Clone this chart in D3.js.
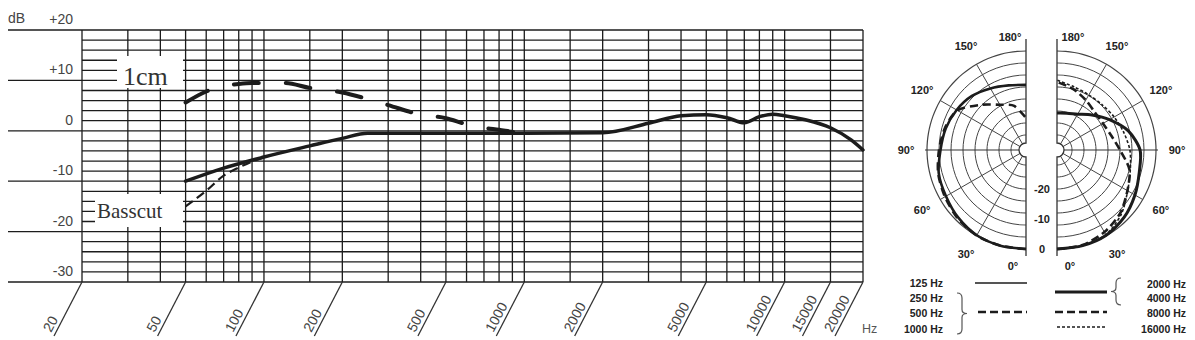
<!DOCTYPE html>
<html><head><meta charset="utf-8">
<script src="https://cdn.jsdelivr.net/npm/d3@7"></script>
<style>body{margin:0;background:#fff;} svg{display:block;}</style>
</head><body>
<svg id="chart" width="1195" height="340"></svg>
<script>
// ---------------- data ----------------
const gridFreqs = [20,30,40,50,60,70,80,90,100,150,200,300,400,500,600,700,800,900,1000,1500,2000,3000,4000,5000,6000,7000,8000,9000,10000,15000,20000];
const xTickFreqs = [20,50,100,200,500,1000,2000,5000,10000,15000,20000];
const xTickLabels = ["20","50","100","200","500","1000","2000","5000","10000","15000","20000"];
const yTickValues = [20,10,0,-10,-20,-30];
const yTickLabels = ["+20","+10","0","-10","-20","-30"];

// frequency response (far field, solid)
const mainFreq = [50,70,100,150,200,250,500,1000,2000,3000,4000,5000,6000,7000,8000,9000,10000,12000,15000,18000,20000];
const mainDb   = [-10,-7.4,-5.2,-3.0,-1.5,-0.5,-0.5,-0.5,-0.4,1.5,3.0,3.2,2.6,1.6,2.8,3.3,3.0,2.2,0.6,-1.8,-3.8];
// 1cm proximity (dashed)
const nearFreq = [50,60,70,80,90,100,120,150,200,250,300,400,500,600,700,800,900,1000];
const nearDb   = [5.6,7.8,8.8,9.3,9.5,9.5,9.5,8.5,7.6,6.3,5.1,3.2,2.5,1.3,0.6,0.2,-0.2,-0.5];
// Basscut (short dashes)
const cutFreq = [50,60,70,80,90,100];
const cutDb   = [-15,-11.9,-8.9,-7.3,-6.1,-5.3];

// polar patterns (dB at angle)
const polarAngles = [0,15,30,45,60,75,90,105,120,135,150,165,180];
const polar125  = [0,0,-0.2,-1.1,-2.2,-2.9,-4.5,-5.3,-6.3,-7.5,-9.3,-10.7,-11.3];
const polarMid  = [0,0,-0.1,-0.8,-1.8,-2.7,-4.0,-5.0,-6.6,-11.7,-15.6,-17.8,-22.3];
const polar2k4k = [0,0,-0.2,-1.3,-3.0,-4.6,-5.3,-8.4,-12.8,-16.5,-19.2,-20.3,-20.7];
const polar8k   = [0,-0.2,-1.4,-3.2,-5.9,-8.0,-12.0,-14.3,-15.3,-15.2,-13.8,-12.0,-10.3];
const polar16k  = [0,0,-0.4,-2.7,-5.8,-7.7,-8.7,-10.0,-11.0,-11.7,-11.8,-11.2,-9.7];
const polarRings = [0,-4,-8,-12,-16,-20,-24,-28];
const polarSpokes = [30,60,120,150];
const polarAngleLabels = [0,30,60,90,120,150,180];
const polarDbLabels = [0,-10,-20];
const legendLeft  = ["125 Hz","250 Hz","500 Hz","1000 Hz"];
const legendRight = ["2000 Hz","4000 Hz","8000 Hz","16000 Hz"];

// ---------------- drawing ----------------
const svg = d3.select("#chart");
const ink = "#1c1c1c", grey = "#444";
const font = "'Liberation Sans', Arial, sans-serif";

const x = d3.scaleLog().domain([20,20000]).range([82,863]);
const y = d3.scaleLinear().domain([-30,20]).range([282,30]);

const grid = svg.append("g").attr("stroke", ink).attr("stroke-width", 1.3);
// horizontal lines every 2 dB
grid.selectAll("line.h").data(d3.range(-30, 21, 2)).join("line")
  .attr("x1", d => d % 10 === 0 ? 8 : x(20)).attr("x2", x(20000))
  .attr("y1", d => y(d)).attr("y2", d => y(d));
// vertical lines
grid.selectAll("line.v").data(gridFreqs).join("line")
  .attr("x1", d => x(d)).attr("x2", d => x(d))
  .attr("y1", y(20)).attr("y2", y(-30));

// y labels
svg.append("g").selectAll("text").data(yTickValues).join("text")
  .attr("x", 73).attr("y", d => y(d) - 6).attr("text-anchor", "end")
  .attr("font-family", font).attr("font-size", 14).attr("fill", grey)
  .text((d,i) => yTickLabels[i]);
svg.append("text").attr("x", 8).attr("y", y(20) - 7)
  .attr("font-family", font).attr("font-size", 14).attr("fill", grey).text("dB");

// x tick slashes and rotated labels
const xt = svg.append("g");
xt.selectAll("line").data(xTickFreqs).join("line")
  .attr("x1", d => x(d)).attr("y1", y(-30))
  .attr("x2", d => x(d) - 28).attr("y2", 336)
  .attr("stroke", "#333").attr("stroke-width", 1.3);
xt.selectAll("text").data(xTickFreqs).join("text")
  .attr("transform", d => `translate(${x(d) - 31},333) rotate(-62)`)
  .attr("font-family", font).attr("font-size", 14).attr("fill", grey)
  .text((d,i) => xTickLabels[i]);

// white label boxes
svg.append("rect").attr("x", 117).attr("y", 56).attr("width", 66).attr("height", 32).attr("fill", "#fff");
svg.append("text").attr("x", 123).attr("y", 85)
  .attr("font-family", "'Liberation Serif', 'Times New Roman', serif").attr("font-size", 26).attr("fill", "#333").text("1cm");
svg.append("rect").attr("x", 95).attr("y", 194).attr("width", 88).attr("height", 33).attr("fill", "#fff");
svg.append("text").attr("x", 97).attr("y", 218)
  .attr("font-family", "'Liberation Serif', 'Times New Roman', serif").attr("font-size", 21).attr("fill", "#333").text("Basscut");

// response curves
const line = d3.line().x(d => x(d[0])).y(d => y(d[1])).curve(d3.curveMonotoneX);
svg.append("path").datum(d3.zip(cutFreq, cutDb)).attr("d", line)
  .attr("fill", "none").attr("stroke", ink).attr("stroke-width", 2.2).attr("stroke-dasharray", "9,5");
svg.append("path").datum(d3.zip(nearFreq, nearDb)).attr("d", line)
  .attr("fill", "none").attr("stroke", ink).attr("stroke-width", 4).attr("stroke-linecap", "round").attr("stroke-dasharray", "25,27");
svg.append("path").datum(d3.zip(mainFreq, mainDb)).attr("d", line)
  .attr("fill", "none").attr("stroke", ink).attr("stroke-width", 3.5).attr("stroke-linecap", "round");

// Hz label
svg.append("text").attr("x", 862).attr("y", 333)
  .attr("font-family", font).attr("font-size", 12.5).attr("fill", "#555").text("Hz");

// ---------------- polar ----------------
const cy = 150, cxL = 1026, cxR = 1057;
const r = d3.scaleLinear().domain([-30, 0]).range([9, 99]);
const angL = d3.scaleLinear().domain([0, 180]).range([Math.PI, 2 * Math.PI]);
const angR = d3.scaleLinear().domain([0, 180]).range([Math.PI, 0]);
const holeR = 7;

function drawHalf(cx, ang, side) {
  const g = svg.append("g").attr("transform", `translate(${cx},${cy})`);
  // rings
  g.selectAll("path.ring").data(polarRings).join("path")
    .attr("d", d => d3.lineRadial().angle(a => ang(a)).radius(r(d)).curve(d3.curveCardinal)(d3.range(0, 181, 5)))
    .attr("fill", "none").attr("stroke", "#444").attr("stroke-width", d => d === 0 ? 1.2 : 1);
  // spokes
  g.selectAll("line.sp").data(polarSpokes).join("line")
    .attr("x1", d => holeR * Math.sin(ang(d))).attr("y1", d => -holeR * Math.cos(ang(d)))
    .attr("x2", d => r(0) * Math.sin(ang(d))).attr("y2", d => -r(0) * Math.cos(ang(d)))
    .attr("stroke", "#444").attr("stroke-width", 1);
  // 90 degree line
  g.append("line").attr("x1", side * holeR).attr("x2", side * (r(0) + 2)).attr("y1", 0).attr("y2", 0)
    .attr("stroke", "#333").attr("stroke-width", 1.2);
  // axis with hole
  const p = d3.path();
  p.moveTo(0, -111); p.lineTo(0, -holeR);
  if (side < 0) p.arc(0, 0, holeR, -Math.PI / 2, Math.PI / 2, true);
  else p.arc(0, 0, holeR, -Math.PI / 2, Math.PI / 2, false);
  p.lineTo(0, 106);
  g.append("path").attr("d", p.toString()).attr("fill", "none").attr("stroke", "#333").attr("stroke-width", 1.3);
  // angle labels
  g.selectAll("text.al").data(polarAngleLabels).join("text")
    .attr("x", d => d === 0 ? side * 13 : d === 180 ? side * 16 : 120 * Math.sin(ang(d)))
    .attr("y", d => d === 0 ? 116 : d === 180 ? -113 : -120 * Math.cos(ang(d)))
    .attr("dy", "0.35em").attr("text-anchor", "middle")
    .attr("font-family", font).attr("font-size", 11).attr("font-weight", "bold").attr("fill", "#222")
    .text(d => d + "°");
  return g;
}
const gL = drawHalf(cxL, angL, -1);
const gR = drawHalf(cxR, angR, 1);

function polarCurve(g, ang, vals, width, dash) {
  const lr = d3.lineRadial().angle(d => ang(d[0])).radius(d => r(d[1])).curve(d3.curveCardinal.tension(0.2));
  const pth = g.append("path").datum(d3.zip(polarAngles, vals)).attr("d", lr)
    .attr("fill", "none").attr("stroke", ink).attr("stroke-width", width);
  if (dash) pth.attr("stroke-dasharray", dash);
}
polarCurve(gL, angL, polarMid, 2.6, "8,5");
polarCurve(gL, angL, polar125, 2.6, null);
polarCurve(gR, angR, polar16k, 1.6, "3,2");
polarCurve(gR, angR, polar8k, 2.6, "8,4");
polarCurve(gR, angR, polar2k4k, 3, null);

// dB labels between halves
svg.append("g").selectAll("text").data(polarDbLabels).join("text")
  .attr("x", 1042).attr("y", d => cy + r(d)).attr("dy", "0.35em").attr("text-anchor", "middle")
  .attr("font-family", font).attr("font-size", 11).attr("font-weight", "bold").attr("fill", "#222")
  .text(d => d);

// ---------------- legend ----------------
const legY = [287, 302, 317, 333];
svg.append("g").selectAll("text").data(legendLeft).join("text")
  .attr("x", 943).attr("y", (d,i) => legY[i]).attr("text-anchor", "end")
  .attr("font-family", font).attr("font-size", 10.5).attr("font-weight", "bold").attr("fill", "#222").text(d => d);
svg.append("g").selectAll("text").data(legendRight).join("text")
  .attr("x", 1186).attr("y", (d,i) => legY[i] + (i === 0 ? 1 : 0)).attr("text-anchor", "end")
  .attr("font-family", font).attr("font-size", 10.5).attr("font-weight", "bold").attr("fill", "#222").text(d => d);

function legLine(x1, x2, yy, w, dash) {
  const l = svg.append("line").attr("x1", x1).attr("x2", x2).attr("y1", yy).attr("y2", yy)
    .attr("stroke", ink).attr("stroke-width", w);
  if (dash) l.attr("stroke-dasharray", dash);
}
legLine(975, 1027, 283, 1.5, null);
legLine(978, 1027, 312, 2.6, "8,4");
legLine(1055, 1107, 292, 3, null);
legLine(1055, 1107, 312, 2.6, "8,4");
legLine(1057, 1107, 327, 1.5, "3,2");

// braces
function brace(xb, y0, y1, dir) {
  const m = (y0 + y1) / 2, w = 5 * dir;
  const p = d3.path();
  p.moveTo(xb, y0);
  p.quadraticCurveTo(xb + w, y0, xb + w, y0 + 5);
  p.lineTo(xb + w, m - 4);
  p.quadraticCurveTo(xb + w, m, xb + 2 * w, m);
  p.quadraticCurveTo(xb + w, m, xb + w, m + 4);
  p.lineTo(xb + w, y1 - 5);
  p.quadraticCurveTo(xb + w, y1, xb, y1);
  svg.append("path").attr("d", p.toString()).attr("fill", "none").attr("stroke", "#555").attr("stroke-width", 1.2);
}
brace(957, 293, 334, 1);
brace(1121, 278, 305, -1);
</script>
</body></html>
